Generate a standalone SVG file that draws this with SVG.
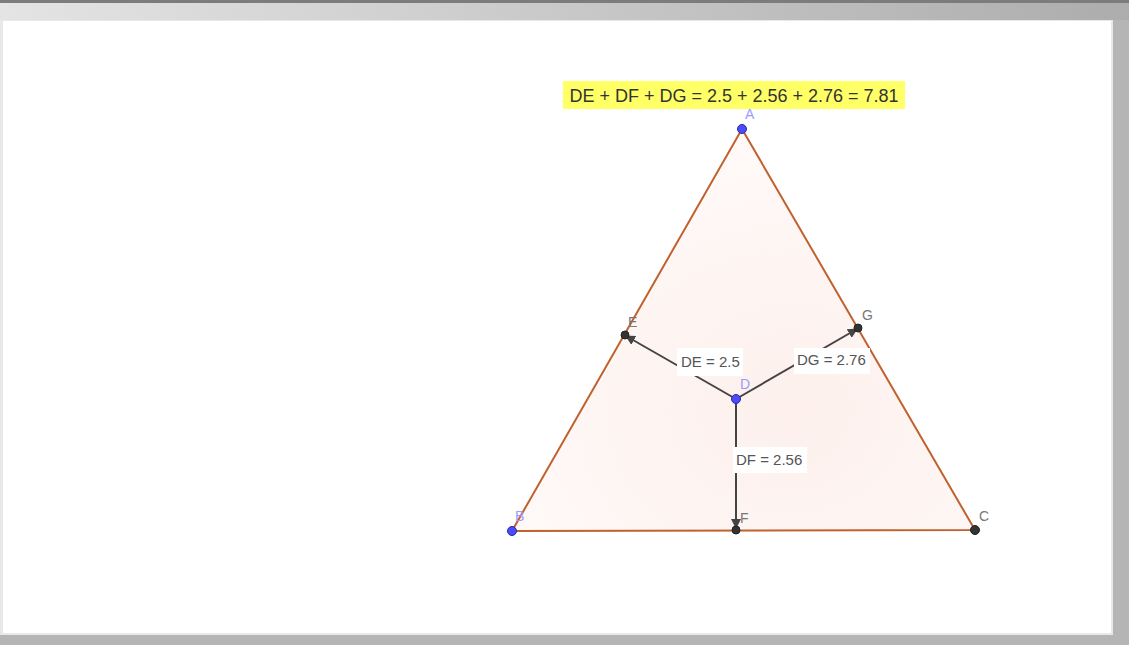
<svg xmlns="http://www.w3.org/2000/svg" width="1129" height="645" viewBox="0 0 1129 645">
<defs>
<linearGradient id="bar" x1="0" y1="0" x2="1" y2="0">
<stop offset="0" stop-color="#e4e4e4"/>
<stop offset="1" stop-color="#adadad"/>
</linearGradient>
<radialGradient id="tri" cx="0.6" cy="0.7" r="0.8">
<stop offset="0" stop-color="#fdf0ec"/>
<stop offset="1" stop-color="#fffbfa"/>
</radialGradient>
<marker id="ah" viewBox="0 0 10 10" refX="9" refY="5" markerWidth="5" markerHeight="5" orient="auto" markerUnits="strokeWidth">
<path d="M0,0 L10,5 L0,10 z" fill="#444"/>
</marker>
<style>
.seg{stroke:#444;stroke-width:2;fill:none}
.lbl{font-family:"Liberation Sans",Arial,sans-serif;font-size:15px;fill:#555}
.pt{font-family:"Liberation Sans",Arial,sans-serif;font-size:14px;fill:#777}
.ptb{font-family:"Liberation Sans",Arial,sans-serif;font-size:14px;fill:#9a9aff}
.box{fill:#fff}
.bp{fill:#4a4aff;stroke:#2a2aa0;stroke-width:1}
.kp{fill:#333;stroke:#222;stroke-width:1}
</style>
</defs>
<rect x="0" y="0" width="1129" height="645" fill="#b5b5b5"/>
<rect x="0" y="3" width="1129" height="17" fill="url(#bar)"/>
<rect x="0" y="0" width="1129" height="3" fill="#7c7c7c"/>
<rect x="0" y="20" width="1113" height="615" fill="#e8e8e8"/>
<rect x="3" y="21" width="1108" height="612" fill="#ffffff"/>
<g id="triangle">
<polygon points="742,129 512,531 975,530" fill="url(#tri)" stroke="#c0622e" stroke-width="2" stroke-linejoin="round"/>
</g>
<g id="connectors">
<line class="seg" x1="736" y1="399" x2="626" y2="336" marker-end="url(#ah)"/>
<line class="seg" x1="736" y1="399" x2="857" y2="329" marker-end="url(#ah)"/>
<line class="seg" x1="736" y1="399" x2="736" y2="528" marker-end="url(#ah)"/>
</g>
<g id="label-DE">
<rect class="box" x="677" y="348" width="66" height="28"/>
<text class="lbl" x="681" y="367">DE = 2.5</text>
</g>
<g id="label-DG">
<rect class="box" x="794" y="348" width="76" height="26"/>
<text class="lbl" x="797" y="365">DG = 2.76</text>
</g>
<g id="label-DF">
<rect class="box" x="733" y="447" width="74" height="26"/>
<text class="lbl" x="736" y="465">DF = 2.56</text>
</g>
<g id="sum">
<rect x="563" y="81" width="342" height="28" fill="#ffff66"/>
<text x="734" y="101.5" text-anchor="middle" font-family="'Liberation Sans',Arial,sans-serif" font-size="18" fill="#333">DE + DF + DG = 2.5 + 2.56 + 2.76 = 7.81</text>
</g>
<g id="A"><circle class="bp" cx="742" cy="129" r="4.5"/><text class="ptb" x="745" y="119">A</text></g>
<g id="B"><circle class="bp" cx="512" cy="531" r="4.5"/><text class="ptb" x="515" y="521">B</text></g>
<g id="C"><circle class="kp" cx="975" cy="530" r="4.5"/><text class="pt" x="979" y="521">C</text></g>
<g id="D"><circle class="bp" cx="736" cy="399" r="4.5"/><text class="ptb" x="740" y="389">D</text></g>
<g id="E"><circle class="kp" cx="625" cy="335" r="4"/><text class="pt" x="628" y="327">E</text></g>
<g id="F"><circle class="kp" cx="736" cy="530" r="4"/><text class="pt" x="740" y="523">F</text></g>
<g id="G"><circle class="kp" cx="858" cy="328" r="4"/><text class="pt" x="862" y="320">G</text></g>
</svg>
